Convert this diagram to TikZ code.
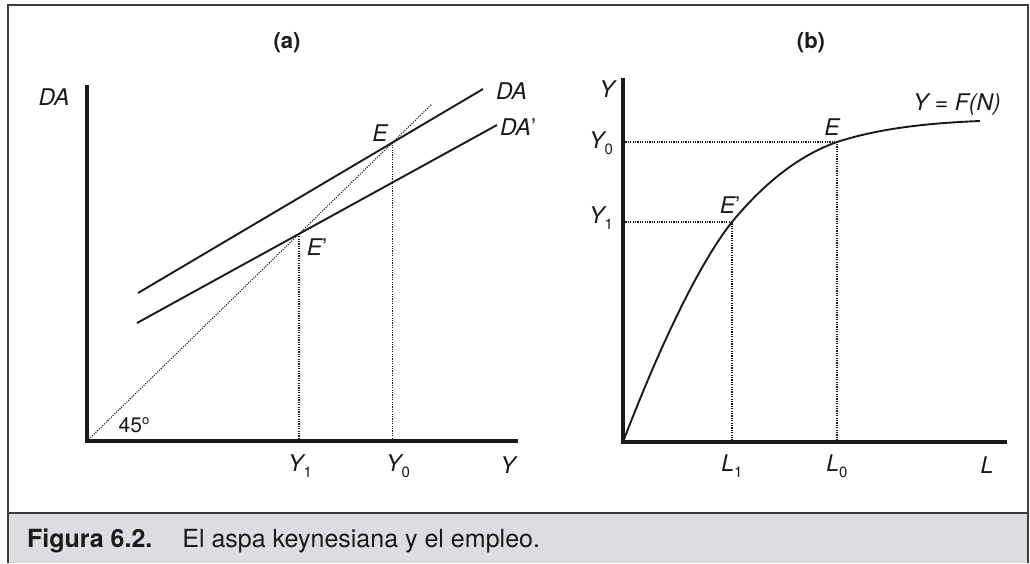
\documentclass[tikz,border=0pt]{standalone}
\usepackage{fontspec}
\setmainfont{TeX Gyre Heros}
\definecolor{framegray}{HTML}{3C3C3C}
\definecolor{capgray}{HTML}{DCDDE0}
\definecolor{ink}{HTML}{1A1A1A}
\newcommand\sbs[1]{\raisebox{-0.5ex}{\upshape\fontsize{15}{16}\selectfont #1}}
\begin{document}
\begin{tikzpicture}[x=1pt,y=-1pt,
  axis/.style={line width=3.8pt, draw=ink, line join=miter},
  curve/.style={line width=1.9pt, draw=ink},
  guide/.style={line width=1.1pt, draw=ink, dash pattern=on 1.1pt off 1.3pt},
  lab/.style={inner sep=0pt, text=ink, font=\fontsize{23}{27}\selectfont\itshape},
  ttl/.style={inner sep=0pt, text=ink, font=\fontsize{22}{26}\selectfont\bfseries},
  frame/.style={line width=1.5pt, draw=framegray}]
\useasboundingbox (0,0) rectangle (1030,563);
% frame and caption band
\fill[capgray] (8,513) rectangle (1028,563);
\draw[frame] (8,563) -- (8,5) -- (1028,5) -- (1028,563);
\draw[frame] (8,513) -- (1028,513);
\node[anchor=base west, inner sep=0pt, text=ink, font=\fontsize{25}{29}\selectfont] (cap) at (27,547)
  {\textbf{Figura 6.2.}\hspace{30pt}El aspa keynesiana y el empleo.};
% ---------- panel (a)
\node[ttl] (ta) at (287,43) {(a)};
\coordinate (O1) at (87,441);
\coordinate (Yt1) at (87,85);
\coordinate (Xe1) at (518,441);
\coordinate (DAs) at (138,293);
\coordinate (DAe) at (483,89);
\coordinate (DBs) at (137,323);
\coordinate (DBe) at (497,125);
\coordinate (T45) at (432,104);
\coordinate (E1) at (intersection of DAs--DAe and O1--T45);
\coordinate (F1) at (intersection of DBs--DBe and O1--T45);
\draw[guide] (O1) -- (T45);
\draw[guide] (E1) -- (E1 |- O1);
\draw[guide] (F1) -- (F1 |- O1);
\draw[curve] (DAs) -- (DAe);
\draw[curve] (DBs) -- (DBe);
\draw[axis] (Yt1) -- (O1) -- (Xe1);
\node[lab] (lDA) at (54,97) {DA};
\node[lab, anchor=west] (lDA2) at (496,91) {DA};
\node[lab, anchor=west] (lDB2) at (500,127) {DA\upshape'};
\node[lab] (lE1) at (380,133) {E};
\node[lab] (lF1) at (317,247) {E\upshape'};
\node[lab, font=\fontsize{21}{24}\selectfont] (l45) at (134,425) {45\raisebox{0.7ex}{\fontsize{13}{13}\selectfont o}};
\node[lab] (lY1) at (300,466) {Y\sbs{1}};
\node[lab] (lY0) at (398,466) {Y\sbs{0}};
\node[lab] (lY) at (508,465) {Y};
% ---------- panel (b)
\node[ttl] (tb) at (811,43) {(b)};
\coordinate (O2) at (623,442);
\coordinate (Yt2) at (623,78);
\coordinate (Xe2) at (1007,442);
\coordinate (F2) at (732,222);
\coordinate (E2) at (837,142);
\coordinate (C2) at (980,121);
\draw[guide] (O2 |- E2) -- (E2) -- (E2 |- O2);
\draw[guide] (O2 |- F2) -- (F2) -- (F2 |- O2);
\draw[curve] (O2) .. controls (660,345) and (700,262) .. (F2)
  .. controls (765,182) and (800,155) .. (E2)
  .. controls (880,128) and (930,123) .. (C2);
\draw[axis] (Yt2) -- (O2) -- (Xe2);
\node[lab] (lYb) at (607,89) {Y};
\node[lab] (lY0b) at (601,143) {Y\sbs{0}};
\node[lab] (lY1b) at (601,218) {Y\sbs{1}};
\node[lab] (lE2) at (832,127) {E};
\node[lab] (lF2) at (730,205) {E\upshape'};
\node[lab] (lFN) at (957,105) {Y = F(N)};
\node[lab] (lL1) at (732,466) {L\sbs{1}};
\node[lab] (lL0) at (837,466) {L\sbs{0}};
\node[lab] (lL) at (987,465) {L};
\end{tikzpicture}
\end{document}
